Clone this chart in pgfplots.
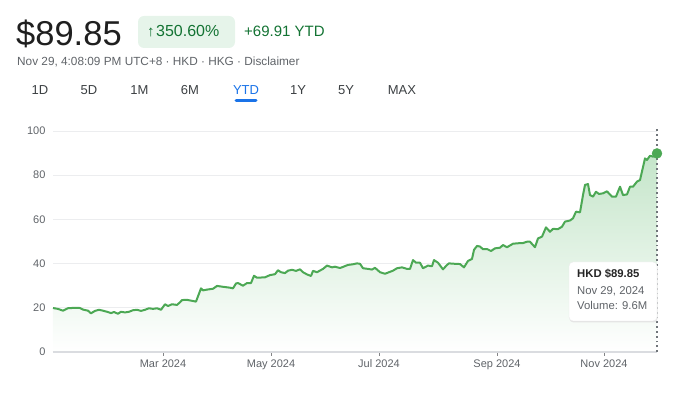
\documentclass[border=0pt]{standalone}
\usepackage{pgfplots}
\pgfplotsset{compat=1.18}
\usepackage{fontspec}
\setmainfont{Liberation Sans}
\definecolor{linec}{RGB}{76,168,84}
\definecolor{fillc}{RGB}{196,229,201}
\definecolor{gridc}{RGB}{236,237,239}
\definecolor{axisc}{RGB}{218,220,224}
\definecolor{labelc}{RGB}{95,99,104}
\definecolor{greent}{RGB}{19,115,51}
\definecolor{badgec}{RGB}{230,244,234}
\definecolor{tabc}{RGB}{60,64,67}
\definecolor{bluec}{RGB}{26,115,232}
\definecolor{dotc}{RGB}{112,117,122}
\pgfplotstableread{
x y
0 19.9
5 19.5
10 18.7
15 19.8
22 20.0
27 19.9
30 19.2
35 18.7
38 17.5
42 18.6
46 19.1
50 18.7
54 18.2
58 17.6
61 18.1
65 17.3
68 18.2
72 17.9
76 18.2
80 18.9
84 19.1
88 18.6
92 19.1
96 19.8
100 19.5
104 19.8
108 19.1
112 21.6
115 20.8
119 21.6
124 21.3
127 22.5
129 23.5
134 23.6
143 22.8
148 28.8
150 27.9
155 28.3
160 28.6
164 29.9
170 29.5
177 29.1
180 28.8
183 31.0
185 31.2
190 30.0
194 31.2
198 31.2
201 34.5
204 33.6
212 33.8
217 34.8
222 35.2
225 37.0
228 36.1
232 35.7
235 36.8
239 37.2
243 36.7
247 37.4
250 36.1
254 35.1
258 34.4
260 36.7
264 36.1
268 37.1
270 37.6
274 39.1
279 38.3
282 38.6
287 38.0
290 38.5
295 39.4
300 39.7
304 40.1
307 39.9
310 37.9
315 37.6
319 37.3
322 38.1
327 36.1
332 35.4
336 36.1
340 36.8
344 37.9
349 38.3
354 37.6
357 37.6
360 41.6
363 40.4
367 40.4
370 37.9
375 39.1
379 38.8
381 41.6
385 40.4
390 37.4
394 39.4
396 40.1
402 39.9
407 39.8
411 38.3
415 41.2
419 42.1
421 46.2
424 48.0
427 47.7
430 46.5
434 46.6
438 45.7
442 46.9
447 47.2
450 48.4
454 47.4
460 49.0
465 49.2
470 49.3
474 49.9
477 49.9
482 47.4
485 51.4
489 52.2
493 56.4
497 54.4
500 55.7
505 55.6
509 56.7
512 59.0
517 59.5
520 60.5
523 63.5
527 63.2
530 71.0
532 75.6
535 76.0
537 71.0
540 70.3
543 72.5
546 71.5
550 71.8
554 72.7
559 70.3
563 70.3
567 74.8
570 71.0
574 71.3
577 74.8
580 74.8
584 77.1
587 77.8
592 87.6
594 86.9
597 88.8
600 88.4
604 89.85
}\pricedata
\begin{document}
\begin{tikzpicture}[x=1pt,y=1pt]
\path[use as bounding box] (0,0) rectangle (680,398);
% header
\node[anchor=base west, inner sep=0, font=\fontsize{34.5}{34.5}\selectfont, text=black!88] at (16,352) {\$89.85};
\fill[badgec, rounded corners=6pt] (138,350) rectangle (235,382);
\node[anchor=base west, inner sep=0, font=\fontsize{15}{15}\selectfont, text=greent] at (147,361) {↑\kern1.5pt\fontsize{16}{16}\selectfont 350.60\%};
\node[anchor=base west, inner sep=0, font=\fontsize{15}{15}\selectfont, text=greent] at (244,361) {+69.91 YTD};
\node[anchor=base west, inner sep=0, font=\fontsize{11.8}{11.8}\selectfont, text=labelc] at (17,332) {Nov 29, 4:08:09 PM UTC+8 · HKD · HKG · Disclaimer};
% tabs
\foreach \lab/\xx in {1D/40,5D/89,1M/139.5,6M/190,1Y/298,5Y/346,MAX/402}
  \node[anchor=base, inner sep=0, font=\fontsize{13}{13}\selectfont, text=tabc] at (\xx,303) {\lab};
\node[anchor=base, inner sep=0, font=\fontsize{13}{13}\selectfont, text=bluec] at (246,303) {YTD};
\draw[bluec, line width=3pt, line cap=round] (236,297) -- (256,297);
\begin{axis}[at={(53pt,46pt)}, anchor=south west, scale only axis,
  width=604pt, height=221pt, xmin=0, xmax=604, ymin=0, ymax=100,
  axis line style={draw=none}, ytick={0,20,...,100},
  xtick={110,218,326,444,551},
  xticklabels={Mar 2024,May 2024,Jul 2024,Sep 2024,Nov 2024},
  ymajorgrids, grid style={gridc, line width=0.8pt},
  tick align=outside, xtick pos=bottom, ytick pos=left,
  x tick style={axisc!60!black, line width=1pt}, major tick length=4pt,
  y tick style={draw=none},
  ticklabel style={font=\fontsize{11}{11}\selectfont, text=labelc},
  /pgf/number format/assume math mode=true, clip=false]
\addplot[draw=none, top color=fillc, bottom color=white] table[x=x,y=y] {\pricedata} \closedcycle;
\draw[axisc, line width=1.3pt] (axis cs:0,0) -- (axis cs:604,0);
\addplot[linec, line width=2pt, line join=round] table[x=x,y=y] {\pricedata};
\draw[dotc, line width=1.6pt, dash pattern=on 1.8pt off 3pt] (axis cs:604,0) -- (axis cs:604,101);
\addplot[only marks, mark=*, mark size=5pt, linec, mark options={draw=linec, fill=linec}] coordinates {(604,89.85)};
\end{axis}
% tooltip
\fill[black!10, rounded corners=4pt] (569.5,75.5) rectangle (657.5,134.5);
\fill[white, rounded corners=4pt] (569,77) rectangle (657,136);
\draw[black!8, rounded corners=4pt] (569,77) rectangle (657,136);
\node[anchor=base west, inner sep=0, font=\bfseries\fontsize{11.3}{11.3}\selectfont, text=black!85] at (577,120) {HKD \$89.85};
\node[anchor=base west, inner sep=0, font=\fontsize{11.3}{11.3}\selectfont, text=labelc] at (577,103) {Nov 29, 2024};
\node[anchor=base west, inner sep=0, font=\fontsize{11.3}{11.3}\selectfont, text=labelc] at (577,88) {Volume: 9.6M};
\end{tikzpicture}
\end{document}
